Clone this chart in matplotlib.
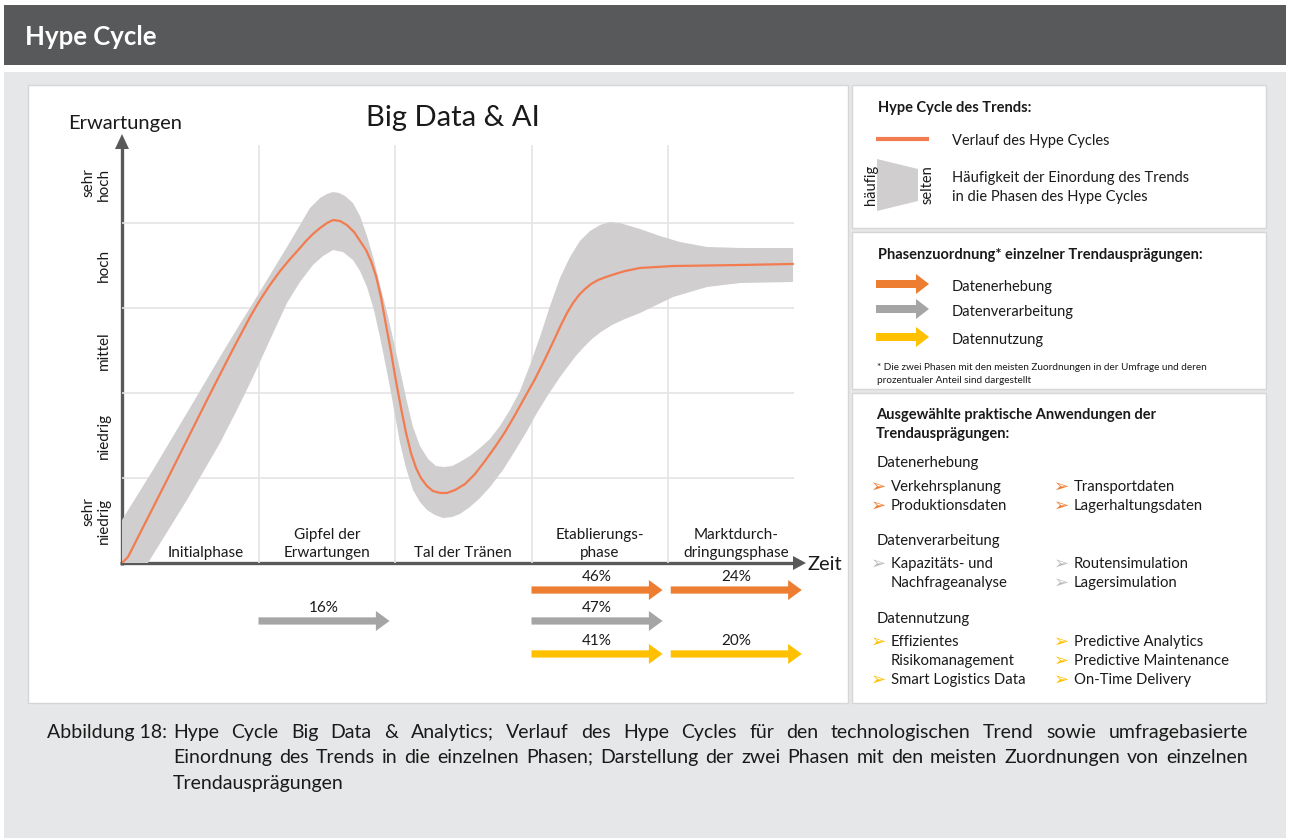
import matplotlib
matplotlib.use("Agg")
import matplotlib.pyplot as plt
from matplotlib.patches import Rectangle, Polygon

# ---------------- data ----------------
phases = ["Initialphase", "Gipfel der\nErwartungen", "Tal der Tränen",
          "Etablierungs-\nphase", "Marktdurch-\ndringungsphase"]
phase_label_x = [0.61, 1.5, 2.5, 3.5, 4.5]
y_levels = ["sehr\nniedrig", "niedrig", "mittel", "hoch", "sehr\nhoch"]

# hype cycle curve (x: phase units, y: expectation levels)
curve_x = [0.000, 0.044, 0.337, 0.476, 0.630, 0.791, 0.864, 0.938, 1.011, 1.084,
           1.158, 1.231, 1.304, 1.348, 1.399, 1.451, 1.502, 1.546, 1.597, 1.648,
           1.700, 1.744, 1.788, 1.824, 1.861, 1.897, 1.934, 1.971, 2.007, 2.044,
           2.081, 2.117, 2.154, 2.190, 2.234, 2.278, 2.330, 2.381, 2.440, 2.513,
           2.586, 2.659, 2.733, 2.806, 2.879, 2.952, 3.026, 3.099, 3.172, 3.216,
           3.260, 3.304, 3.348, 3.392, 3.436, 3.487, 3.546, 3.612, 3.685, 3.795,
           4.037, 4.527, 4.916]
curve_y = [0.000, 0.071, 1.000, 1.447, 1.941, 2.447, 2.671, 2.894, 3.094, 3.271,
           3.435, 3.576, 3.706, 3.788, 3.871, 3.941, 4.000, 4.035, 4.024, 3.976,
           3.894, 3.788, 3.682, 3.553, 3.376, 3.129, 2.800, 2.482, 2.141, 1.824,
           1.529, 1.294, 1.118, 1.000, 0.906, 0.847, 0.824, 0.824, 0.859, 0.929,
           1.047, 1.200, 1.365, 1.541, 1.741, 1.953, 2.165, 2.400, 2.647, 2.800,
           2.941, 3.059, 3.153, 3.224, 3.282, 3.329, 3.365, 3.400, 3.435, 3.471,
           3.494, 3.506, 3.518]

# spread band (frequency of classification)
band_upper_x = [0.000, 0.227, 0.476, 0.718, 0.864, 0.960, 1.084, 1.209, 1.304, 1.377,
                1.451, 1.502, 1.546, 1.590, 1.634, 1.692, 1.744, 1.795, 1.846, 1.890,
                1.941, 1.985, 2.037, 2.088, 2.132, 2.183, 2.242, 2.300, 2.359, 2.418,
                2.476, 2.549, 2.623, 2.696, 2.769, 2.842, 2.916, 2.989, 3.062, 3.136,
                3.209, 3.282, 3.355, 3.429, 3.502, 3.575, 3.648, 3.795, 3.941, 4.088,
                4.286, 4.527, 4.916]
band_upper_y = [0.506, 1.094, 1.765, 2.424, 2.812, 3.059, 3.388, 3.718, 3.976, 4.176,
                4.294, 4.341, 4.365, 4.353, 4.318, 4.235, 4.082, 3.847, 3.565, 3.271,
                2.953, 2.647, 2.271, 1.894, 1.600, 1.376, 1.224, 1.141, 1.129, 1.141,
                1.188, 1.259, 1.353, 1.459, 1.612, 1.800, 2.024, 2.329, 2.659, 3.024,
                3.353, 3.600, 3.788, 3.906, 3.976, 4.012, 4.000, 3.929, 3.847, 3.776,
                3.718, 3.706, 3.706]
band_lower_x = [0.000, 0.190, 0.476, 0.718, 0.842, 0.960, 1.084, 1.209, 1.304, 1.399,
                1.473, 1.546, 1.619, 1.692, 1.744, 1.795, 1.846, 1.890, 1.927, 1.963,
                2.000, 2.037, 2.081, 2.132, 2.183, 2.234, 2.293, 2.352, 2.418, 2.476,
                2.549, 2.623, 2.696, 2.791, 2.879, 2.967, 3.040, 3.121, 3.209, 3.319,
                3.377, 3.443, 3.509, 3.590, 3.685, 3.795, 4.037, 4.286, 4.527, 4.916]
band_lower_y = [0.000, 0.000, 0.741, 1.412, 1.800, 2.188, 2.624, 3.059, 3.306, 3.506,
                3.612, 3.682, 3.659, 3.565, 3.435, 3.247, 2.976, 2.659, 2.365, 2.071,
                1.741, 1.412, 1.118, 0.859, 0.718, 0.624, 0.565, 0.529, 0.541, 0.576,
                0.659, 0.765, 0.894, 1.094, 1.318, 1.553, 1.765, 1.976, 2.188, 2.424,
                2.529, 2.635, 2.718, 2.800, 2.871, 2.941, 3.129, 3.247, 3.294, 3.306]

# phase assignment of trend characteristics (two most frequent phases, %)
erhebung_phase = [3, 4]
erhebung_pct = [46, 24]
verarbeitung_phase = [1, 3]
verarbeitung_pct = [16, 47]
nutzung_phase = [3, 4]
nutzung_pct = [41, 20]

# ---------------- style ----------------
FONT = ["Lato", "DejaVu Sans"]
plt.rcParams["font.family"] = FONT
C_OR = "#ED7D31"
C_GR = "#A5A5A5"
C_YE = "#FFC000"
C_CURVE = "#F27C50"
C_BAND = "#D0CECE"
C_AXIS = "#595959"
C_TXT = "#1a1a1a"

W, H = 1290, 838
fig = plt.figure(figsize=(12.9, 8.38), dpi=100)
fig.patch.set_facecolor("white")

bg = fig.add_axes([0, 0, 1, 1])
bg.set_xlim(0, W)
bg.set_ylim(H, 0)
bg.axis("off")

# page layout
bg.add_patch(Rectangle((4, 5), 1282, 60, color="#58595B", lw=0))
bg.add_patch(Rectangle((4, 72), 1282, 770, color="#E6E7E8", lw=0))
bg.text(25, 37, "Hype Cycle", color="white", fontsize=18.5, fontweight="bold",
        va="center", ha="left")
for (x, y, w, h) in [(28, 85, 820, 618), (852, 85, 414, 143),
                     (852, 232, 414, 157), (852, 393, 414, 310)]:
    bg.add_patch(Rectangle((x, y), w, h, facecolor="white", edgecolor="#D6D6D6", lw=1))

# ---------------- chart ----------------
ax = fig.add_axes([122 / W, 1 - 563 / H, 682.5 / W, 425 / H])
ax.set_xlim(0, 5)
ax.set_ylim(0, 5)
ax.patch.set_alpha(0)
for s in ax.spines.values():
    s.set_visible(False)
ax.set_xticks([])
ax.set_yticks([0.5, 1.5, 2.5, 3.5, 4.45])
ax.set_yticklabels(y_levels, rotation=90, fontsize=11, color=C_TXT,
                   va="center", ha="right", linespacing=1.15)
ax.tick_params(axis="y", length=0, pad=8)

ax.vlines([1, 2, 3, 4], 0, 4.92, color="#E4E4E4", lw=1.2, zorder=1)
ax.hlines([1, 2, 3, 4], 0, 4.92, color="#E4E4E4", lw=1.2, zorder=1)

band_x = band_upper_x + band_lower_x[::-1]
band_y = band_upper_y + band_lower_y[::-1]
ax.fill(band_x, band_y, color=C_BAND, lw=0, zorder=2)
ax.plot(curve_x, curve_y, color=C_CURVE, lw=1.6, zorder=3,
        solid_capstyle="round", solid_joinstyle="round")

for lab, px in zip(phases, phase_label_x):
    ax.text(px, 0.04, lab, ha="center", va="bottom", fontsize=11, color=C_TXT,
            linespacing=1.3, zorder=4)

# axes arrows (pixel layer)
bg.plot([122, 122], [565, 146], color=C_AXIS, lw=2.4, solid_capstyle="butt")
bg.add_patch(Polygon([(115, 149), (129, 149), (122, 134)], color=C_AXIS, lw=0))
bg.plot([120, 795], [563, 563], color=C_AXIS, lw=2.4, solid_capstyle="butt")
bg.add_patch(Polygon([(793, 556), (793, 570), (806, 563)], color=C_AXIS, lw=0))
bg.text(68, 123, "Erwartungen", fontsize=14.5, va="center", ha="left", color=C_TXT)
bg.text(808, 564, "Zeit", fontsize=14.5, va="center", ha="left", color=C_TXT)
bg.text(453, 118, "Big Data & AI", fontsize=21, va="center", ha="center", color=C_TXT)

# percentage arrows below time axis
rows = [(erhebung_phase, erhebung_pct, C_OR, -0.318),
        (verarbeitung_phase, verarbeitung_pct, C_GR, -0.682),
        (nutzung_phase, nutzung_pct, C_YE, -1.07)]
for ph, pct, col, yrow in rows:
    for p, v in zip(ph, pct):
        x0 = p + (0.0 if p < 4 else 0.02)
        ax.arrow(x0, yrow, 0.96, 0, width=0.085, head_width=0.235, head_length=0.1,
                 length_includes_head=True, color=col, lw=0, clip_on=False, zorder=4)
        ax.text(x0 + 0.48, yrow + 0.155, f"{v}%", ha="center", va="center",
                fontsize=11, color=C_TXT, clip_on=False)

# ---------------- legend panel 1 ----------------
bg.text(878, 108, "Hype Cycle des Trends:", fontsize=10.5, fontweight="bold",
        va="center", ha="left", color=C_TXT)
bg.plot([876, 929], [139, 139], color=C_CURVE, lw=3, solid_capstyle="butt")
bg.text(952, 141, "Verlauf des Hype Cycles", fontsize=10.5, va="center", ha="left", color=C_TXT)
bg.add_patch(Polygon([(877, 159), (918, 169), (918, 201), (877, 211)], color=C_BAND, lw=0))
bg.text(871, 185, "häufig", rotation=90, fontsize=10.5, va="center", ha="center", color=C_TXT)
bg.text(928, 185, "selten", rotation=90, fontsize=10.5, va="center", ha="center", color=C_TXT)
bg.text(952, 178, "Häufigkeit der Einordung des Trends", fontsize=10.5, va="center",
        ha="left", color=C_TXT)
bg.text(952, 197, "in die Phasen des Hype Cycles", fontsize=10.5, va="center",
        ha="left", color=C_TXT)

# ---------------- legend panel 2 ----------------
bg.text(878, 255, "Phasenzuordnung* einzelner Trendausprägungen:", fontsize=10.5,
        fontweight="bold", va="center", ha="left", color=C_TXT)
leg_rows = [("Datenerhebung", C_OR, 284, 287), ("Datenverarbeitung", C_GR, 309, 312),
            ("Datennutzung", C_YE, 337, 340)]
for lab, col, ya, yt in leg_rows:
    bg.add_patch(Polygon([(876, ya - 4), (916, ya - 4), (916, ya - 10), (929, ya),
                          (916, ya + 10), (916, ya + 4), (876, ya + 4)], color=col, lw=0))
    bg.text(952, yt, lab, fontsize=10.5, va="center", ha="left", color=C_TXT)
bg.text(877, 367, "* Die zwei Phasen mit den meisten Zuordnungen in der Umfrage und deren",
        fontsize=7.2, va="center", ha="left", color=C_TXT)
bg.text(877, 380, "prozentualer Anteil sind dargestellt", fontsize=7.2, va="center",
        ha="left", color=C_TXT)

# ---------------- legend panel 3 ----------------
bg.text(876, 415, "Ausgewählte praktische Anwendungen der", fontsize=10.5,
        fontweight="bold", va="center", ha="left", color=C_TXT)
bg.text(876, 434, "Trendausprägungen:", fontsize=10.5, fontweight="bold",
        va="center", ha="left", color=C_TXT)

groups = [
    ("Datenerhebung", 463, C_OR,
     [(487, "Verkehrsplanung", True), (506, "Produktionsdaten", True)],
     [(487, "Transportdaten"), (506, "Lagerhaltungsdaten")]),
    ("Datenverarbeitung", 541, "#BDBDBD",
     [(564, "Kapazitäts- und", True), (583, "Nachfrageanalyse", False)],
     [(564, "Routensimulation"), (583, "Lagersimulation")]),
    ("Datennutzung", 619, C_YE,
     [(642, "Effizientes", True), (661, "Risikomanagement", False),
      (680, "Smart Logistics Data", True)],
     [(642, "Predictive Analytics"), (661, "Predictive Maintenance"),
      (680, "On-Time Delivery")]),
]
for title, ty, col, left, right in groups:
    bg.text(877, ty, title, fontsize=10.7, va="center", ha="left", color=C_TXT)
    for y, txt, bullet in left:
        if bullet:
            bg.text(871, y, "➢", fontsize=13, va="center", ha="left", color=col, family=FONT)
        bg.text(891, y, txt, fontsize=10.7, va="center", ha="left", color=C_TXT)
    for y, txt in right:
        bg.text(1054, y, "➢", fontsize=13, va="center", ha="left", color=col, family=FONT)
        bg.text(1074, y, txt, fontsize=10.7, va="center", ha="left", color=C_TXT)

# ---------------- caption ----------------
renderer = fig.canvas.get_renderer()
CAP = 14


def justify(line, x0, x1, y):
    words = line.split()
    ts = [bg.text(0, y, w, fontsize=CAP, va="center", ha="left", color=C_TXT) for w in words]
    ws = [t.get_window_extent(renderer).width for t in ts]
    gap = (x1 - x0 - sum(ws)) / (len(words) - 1)
    x = x0
    for t, w in zip(ts, ws):
        t.set_x(x)
        x += w + gap


bg.text(47, 732, "Abbildung 18:", fontsize=CAP, va="center", ha="left", color=C_TXT)
justify("Hype Cycle Big Data & Analytics; Verlauf des Hype Cycles für den "
        "technologischen Trend sowie umfragebasierte", 173, 1248, 732)
justify("Einordnung des Trends in die einzelnen Phasen; Darstellung der zwei Phasen "
        "mit den meisten Zuordnungen von einzelnen", 173, 1248, 757)
bg.text(173, 783, "Trendausprägungen", fontsize=CAP, va="center", ha="left", color=C_TXT)

fig.savefig("out.png", dpi=100)
